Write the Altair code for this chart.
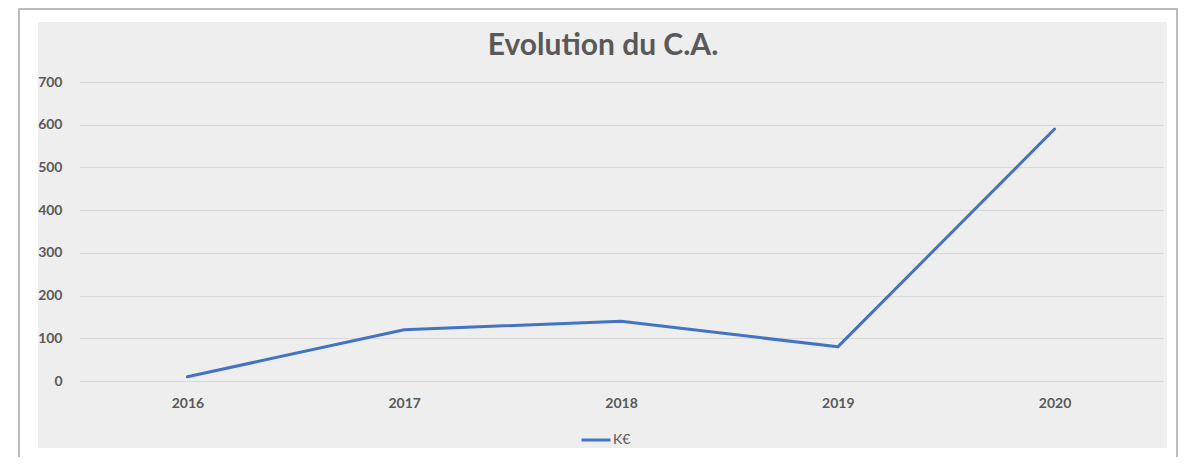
import altair as alt
import pandas as pd

years = ["2016", "2017", "2018", "2019", "2020"]
values = [10, 120, 140, 80, 590]
series = ["K€"] * 5
title_text = ["Evolution du C.A."]

df = pd.DataFrame({"year": years, "value": values, "series": series})

W, H = 1084, 299
FONT = "Lato"
GREY = "#595959"

one = pd.DataFrame({"t": title_text})

def strip(x1, x2, y1, y2):
    return alt.Chart(one).mark_rect(fill="white", strokeWidth=0).encode(
        x=alt.value(x1), x2=alt.value(x2), y=alt.value(y1), y2=alt.value(y2)
    )

strips = [
    strip(-80, -41, -80, 390),
    strip(1088, 1130, -80, 390),
    strip(-80, 1130, -80, -60),
    strip(-80, 1130, 366, 390),
]
frame = alt.Chart(one).mark_rect(filled=False, stroke="#A6A6A6", strokeWidth=1.5).encode(
    x=alt.value(-60), x2=alt.value(1098), y=alt.value(-73), y2=alt.value(380)
)
title = alt.Chart(one).mark_text(
    font=FONT, fontSize=30, fontWeight="bold", color=GREY, align="center", baseline="alphabetic"
).encode(text="t:N", x=alt.value(524), y=alt.value(-27))

line = alt.Chart(df).mark_line(strokeWidth=3, strokeCap="round", strokeJoin="round").encode(
    x=alt.X("year:N", scale=alt.Scale(paddingOuter=0.5), sort=years,
            axis=alt.Axis(title=None, labelAngle=0, domain=False, ticks=False, grid=False,
                          labelFont=FONT, labelFontSize=14, labelFontWeight="bold",
                          labelColor=GREY, labelPadding=15)),
    y=alt.Y("value:Q", scale=alt.Scale(domain=[0, 700], nice=False),
            axis=alt.Axis(title=None, values=[0, 100, 200, 300, 400, 500, 600, 700],
                          domain=False, ticks=False, gridColor="#D9D9D9", gridWidth=1,
                          labelFont=FONT, labelFontSize=14, labelFontWeight="bold",
                          labelColor=GREY, labelPadding=17)),
    color=alt.Color("series:N", scale=alt.Scale(domain=["K€"], range=["#4472C4"]),
                    legend=alt.Legend(title=None, orient="none", legendX=501, legendY=342,
                                      symbolType="stroke", symbolSize=841, symbolStrokeWidth=3,
                                      labelFont=FONT, labelFontSize=14, labelColor=GREY,
                                      labelOffset=1)),
)

chart = alt.layer(*strips, frame, title, line).properties(
    width=W, height=H,
    autosize=alt.AutoSizeParams(type="none"),
    padding={"left": 71, "top": 74, "right": 20, "bottom": 76},
    background="#EEEEEE",
).configure_view(strokeWidth=0)

chart.save("out.html", embed_options={"renderer": "svg", "actions": False})
